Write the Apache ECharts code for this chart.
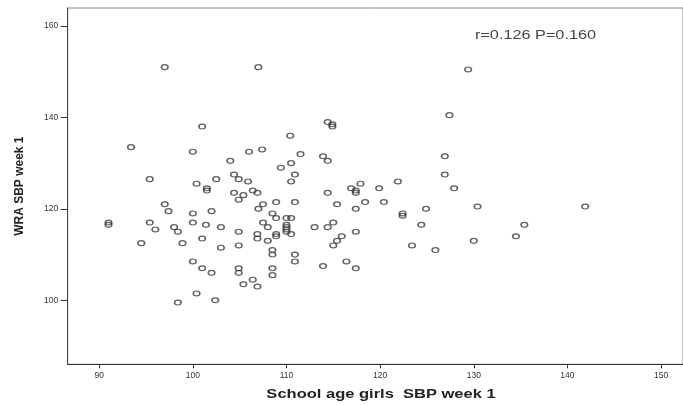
<!DOCTYPE html>
<html>
<head>
<meta charset="utf-8">
<script src="https://cdn.jsdelivr.net/npm/echarts@6/dist/echarts.min.js"></script>
<style>
html,body{margin:0;padding:0;background:#fff;}
#chart{width:683px;height:406px;}
</style>
</head>
<body>
<div id="chart"></div>
<script>
// School age girls SBP week 1 (x) vs WRA SBP week 1 (y)
var girlsSBP = [
  97, 107, 129.4, 127.4, 101, 114.4, 114.9, 114.9, 93.4, 100,
  107.4, 106, 110.4, 111.5, 113.9, 114.4, 104, 110.5, 109.4, 110.9,
  104.4, 104.9, 95.4, 102.5, 100.4, 105.9, 110.5, 101.5, 101.5, 106.4,
  106.9, 104.4, 105.4, 104.9, 97, 97.4, 107.5, 108.9, 110.9, 107,
  100, 102, 108.5, 108.9, 110, 110.5, 91, 91, 95.4, 100,
  101.4, 96, 98, 98.4, 103, 104.9, 107.5, 108, 106.9, 106.9,
  108, 108.9, 108.9, 110, 110, 110, 110, 110.5, 113, 114.4,
  115, 115.4, 114.4, 116.9, 117.4, 117.4, 117.9, 118.4, 117.4, 119.9,
  120.4, 121.9, 122.4, 122.4, 124.9, 124.4, 123.4, 125.9, 126.9, 126.9,
  127.9, 130.4, 130, 134.5, 135.4, 141.9, 117.4, 115.9, 115.4, 115,
  110.9, 110.9, 113.9, 116.4, 117.4, 108.5, 108.5, 108.5, 108.5, 106.4,
  106.9, 105.4, 104.9, 104.9, 104.9, 103, 101, 98.9, 94.5, 100,
  101, 102, 100.4, 102.4, 98.4
];
var wraSBP = [
  151, 151, 150.5, 140.5, 138, 139, 138.5, 138, 133.5, 132.5,
  133, 132.5, 136, 132, 131.5, 130.5, 130.5, 130, 129, 127.5,
  127.5, 126.5, 126.5, 126.5, 125.5, 126, 126, 124.5, 124, 124,
  123.5, 123.5, 123, 122, 121, 119.5, 121, 121.5, 121.5, 120,
  119, 119.5, 119, 118, 118, 118, 117, 116.5, 117, 117,
  116.5, 115.5, 116, 115, 116, 115, 117, 116, 114.5, 113.5,
  113, 114.5, 114, 116.5, 116, 115.5, 115, 114.5, 116, 116,
  117, 121, 123.5, 124.5, 124, 123.5, 125.5, 121.5, 120, 124.5,
  121.5, 126, 119, 118.5, 120, 116.5, 112, 111, 131.5, 127.5,
  124.5, 120.5, 113, 114, 116.5, 120.5, 115, 114, 113, 112,
  110, 108.5, 107.5, 108.5, 107, 111, 110, 107, 105.5, 104.5,
  103, 103.5, 107, 106, 112, 111.5, 113.5, 112.5, 112.5, 108.5,
  107, 106, 101.5, 100, 99.5
];
var xTicks = [90, 100, 110, 120, 130, 140, 150];
var yTicks = [100, 120, 140, 160];
var xTitle = 'School age girls  SBP week 1';
var yTitle = 'WRA SBP week 1';
var statText = 'r=0.126 P=0.160';

var points = girlsSBP.map(function (v, i) { return [v, wraSBP[i]]; });

var chart = echarts.init(document.getElementById('chart'), null, {renderer: 'canvas'});
chart.setOption({
  animation: false,
  backgroundColor: '#fff',
  grid: {
    left: 67.7, right: -2, top: 8, bottom: 41.7,
    show: true, borderColor: '#8a8a8a', borderWidth: 1, backgroundColor: 'transparent'
  },
  xAxis: {
    type: 'value',
    min: 86.64, max: 152.34,
    splitLine: {show: false},
    axisLine: {show: true, onZero: false, lineStyle: {color: '#333', width: 1}},
    axisTick: {show: true, length: 4, customValues: xTicks, lineStyle: {color: '#333'}},
    axisLabel: {
      customValues: xTicks, margin: 7, color: '#333',
      fontFamily: 'Liberation Sans', fontSize: 8.5
    }
  },
  yAxis: {
    type: 'value',
    min: 86.0, max: 163.94,
    splitLine: {show: false},
    axisLine: {show: true, onZero: false, lineStyle: {color: '#444', width: 1}},
    axisTick: {show: true, length: 7, customValues: yTicks, lineStyle: {color: '#333'}},
    axisLabel: {
      customValues: yTicks, margin: 9.5, color: '#333',
      fontFamily: 'Liberation Sans', fontSize: 8.5
    },
    name: yTitle,
    nameLocation: 'middle',
    nameGap: 42,
    nameTextStyle: {
      fontFamily: 'Liberation Sans', fontWeight: 'bold', fontSize: 12, color: '#222'
    }
  },
  graphic: [
    {
      type: 'text', x: 381, y: 395, scaleX: 1.32, scaleY: 1,
      style: {
        text: xTitle, fill: '#222', textAlign: 'center', textVerticalAlign: 'middle',
        font: 'bold 12.5px "Liberation Sans"'
      }
    },
    {
      type: 'text', x: 535.5, y: 35, scaleX: 1.25, scaleY: 1,
      style: {
        text: statText, fill: '#444', textAlign: 'center', textVerticalAlign: 'middle',
        font: '13px "Liberation Sans"'
      }
    }
  ],
  series: [{
    type: 'scatter',
    data: points,
    symbol: 'circle',
    symbolSize: [6.6, 4.9],
    itemStyle: {color: 'rgba(0,0,0,0)', borderColor: '#3a3a3a', borderWidth: 1.35},
    emphasis: {disabled: true}
  }]
});
</script>
</body>
</html>
